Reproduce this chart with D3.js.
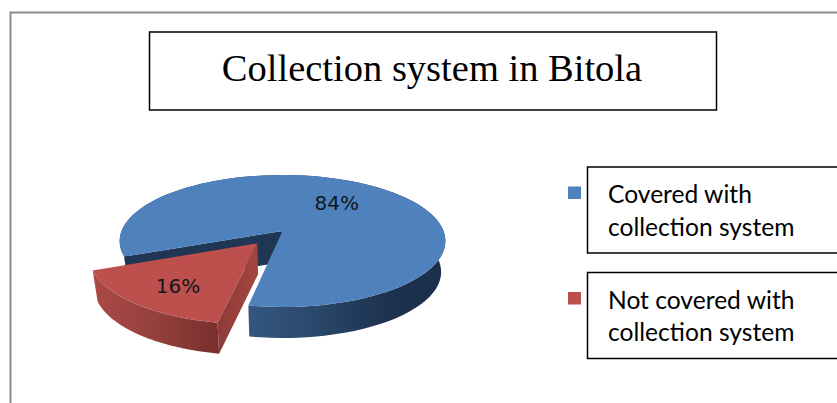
<!DOCTYPE html>
<html>
<head>
<meta charset="utf-8">
<script src="https://cdn.jsdelivr.net/npm/d3@7"></script>
<style>
html,body{margin:0;padding:0;background:#fff;overflow:hidden}
svg{display:block}
</style>
</head>
<body>
<svg id="chart" width="837" height="403"></svg>
<script>
// Chart content
const chartTitle = "Collection system in Bitola";
const categories = ["Covered with collection system", "Not covered with collection system"];
const legendLines = [["Covered with", "collection system"], ["Not covered with", "collection system"]];
const shares = [84, 16];
const topColors = ["#4f81bd", "#bd4f4c"];

const svg = d3.select("#chart");
const deg = Math.PI / 180;

// Perspective view of the pie disc: a unit circle is tilted and projected to the page.
const cx = 282.5, cy = 231, scaleX = 161, scaleY = 64.5, tilt = 0.1515;
const depth = 31, shrink = 0.974, explode = 0.24;

function project(u, v, lower) {
  const w = 1 + tilt * v;
  let x = scaleX * u / w, y = -scaleY * v / w;
  if (lower) { x *= shrink; y += depth; }
  return [cx + x, cy + y];
}

const pie = d3.pie().sort(null).startAngle(248 * deg).endAngle(608 * deg);
const arcs = pie(shares);
const color = d3.scaleOrdinal().domain(categories).range(topColors);
const line = d3.line();

// Offset of a slice in disc space; only the small slice is pulled out.
function offset(i) {
  if (i === 0) return [0, 0];
  const a = (arcs[i].startAngle + arcs[i].endAngle) / 2;
  return [Math.sin(a) * explode, Math.cos(a) * explode];
}
function rimPoint(i, a, lower) {
  const [ox, oy] = offset(i);
  return project(ox + Math.sin(a), oy + Math.cos(a), lower);
}
function rim(i, lower) {
  const d = arcs[i];
  const n = 90;
  return d3.range(n + 1).map(k => rimPoint(i, d.startAngle + (d.endAngle - d.startAngle) * k / n, lower));
}
function tip(i, lower) {
  const [ox, oy] = offset(i);
  return project(ox, oy, lower);
}

// Side shading
const defs = svg.append("defs");
function gradient(id, x1, y1, x2, y2, stops) {
  const g = defs.append("linearGradient").attr("id", id).attr("gradientUnits", "userSpaceOnUse")
    .attr("x1", x1).attr("y1", y1).attr("x2", x2).attr("y2", y2);
  stops.forEach(([o, c]) => g.append("stop").attr("offset", o).attr("stop-color", c));
}
gradient("blueSide", 250, 0, 445, 0, [[0, "#34567f"], [0.35, "#2a4769"], [0.7, "#1d324f"], [1, "#1b2f4b"]]);
gradient("redSide", 92, 0, 220, 0, [[0, "#ab4a47"], [0.5, "#94403d"], [1, "#772e2c"]]);
gradient("redFace", 220, 0, 256, 0, [[0, "#8f3c39"], [1, "#a3453f"]]);

// Frame around the chart
svg.append("path").attr("d", "M10.5,403V12.5H837").attr("fill", "none").attr("stroke", "#8c8c8c").attr("stroke-width", 2);

// Covered slice: outer wall, inner wall, then its top surface
svg.append("path")
  .attr("d", line(rim(0, false).concat(rim(0, true).reverse())) + "Z")
  .attr("fill", "url(#blueSide)");
svg.append("path")
  .attr("d", line([tip(0, false), rimPoint(0, arcs[0].startAngle, false), rimPoint(0, arcs[0].startAngle, true), tip(0, true)]) + "Z")
  .attr("fill", "#1f3655");
svg.append("path")
  .attr("d", line([tip(0, false)].concat(rim(0, false))) + "Z")
  .attr("fill", color(categories[0]));

// Not covered slice: outer wall, cut face, then its top surface
svg.append("path")
  .attr("d", line(rim(1, false).concat(rim(1, true).reverse())) + "Z")
  .attr("fill", "url(#redSide)");
svg.append("path")
  .attr("d", line([tip(1, false), rimPoint(1, arcs[1].startAngle, false), rimPoint(1, arcs[1].startAngle, true), tip(1, true)]) + "Z")
  .attr("fill", "url(#redFace)");
svg.append("path")
  .attr("d", line([tip(1, false)].concat(rim(1, false))) + "Z")
  .attr("fill", color(categories[1]));

// Percentage labels on the slices, placed along each slice's bisector
const labelRadius = [0.58, 0.7];
const labelNudge = [[-1, -1.5], [3, 1.5]];
arcs.forEach((d, i) => {
  const a = (d.startAngle + d.endAngle) / 2;
  const [ox, oy] = offset(i);
  const [x, y] = project(ox + Math.sin(a) * labelRadius[i], oy + Math.cos(a) * labelRadius[i], false);
  svg.append("text").attr("x", x + labelNudge[i][0]).attr("y", y + 7.5 + labelNudge[i][1])
    .attr("text-anchor", "middle")
    .attr("font-family", "'DejaVu Sans', sans-serif").attr("font-size", 20)
    .attr("fill", "#101820")
    .text(d.data + "%");
});

// Title box
svg.append("rect").attr("x", 149.5).attr("y", 32).attr("width", 567).attr("height", 78)
  .attr("fill", "#fff").attr("stroke", "#000").attr("stroke-width", 1.5);
svg.append("text").attr("x", 432).attr("y", 81).attr("text-anchor", "middle")
  .attr("font-family", "'Liberation Serif', serif").attr("font-size", 38.5).attr("fill", "#000")
  .text(chartTitle);

// Legend: one marker and one outlined box per category
const legendTops = [167, 272.5];
const legend = svg.selectAll("g.legend").data(categories).join("g").attr("class", "legend");
legend.append("rect").attr("x", 568).attr("y", (d, i) => legendTops[i] + 19.5).attr("width", 13).attr("height", 12.5)
  .attr("fill", d => color(d));
legend.append("rect").attr("x", 587.5).attr("y", (d, i) => legendTops[i]).attr("width", 262).attr("height", 86)
  .attr("fill", "#fff").attr("stroke", "#000").attr("stroke-width", 1.5);
legend.each(function(d, i) {
  d3.select(this).selectAll("text.entry").data(legendLines[i]).join("text").attr("class", "entry")
    .attr("x", 608).attr("y", (t, k) => legendTops[i] + 36 + k * 32.5)
    .attr("font-family", "Lato, sans-serif").attr("font-size", 24.6).attr("fill", "#000")
    .text(t => t);
});
</script>
</body>
</html>
